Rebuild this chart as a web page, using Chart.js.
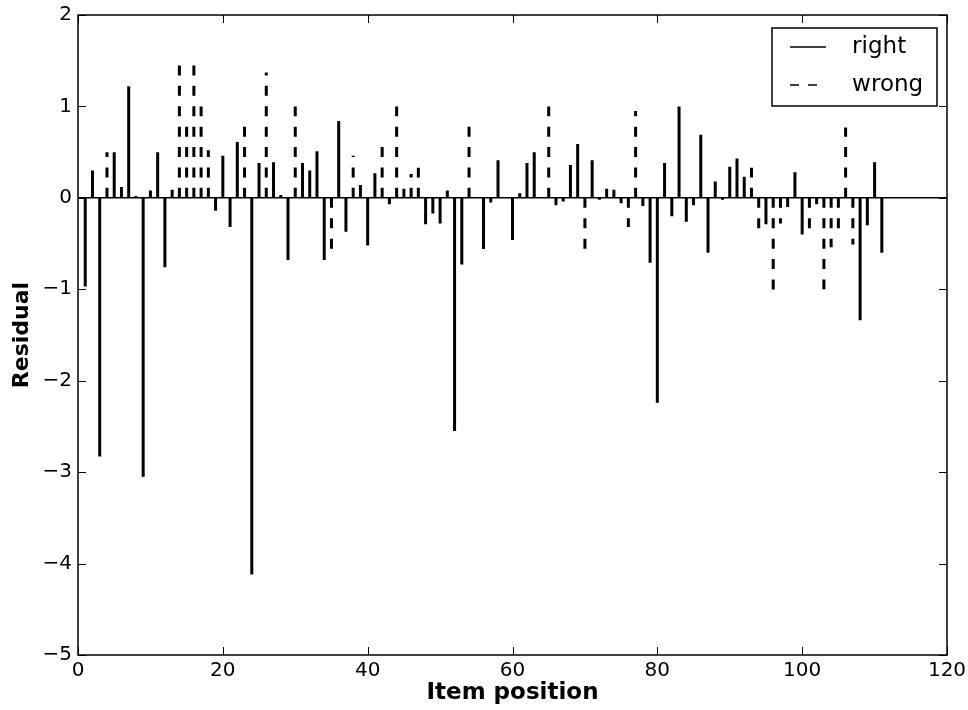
<!DOCTYPE html>
<html>
<head>
<meta charset="utf-8">
<script src="https://cdn.jsdelivr.net/npm/chart.js@4"></script>
<style>
    body { margin: 0; background: #fff; }
    #wrap { width: 968px; height: 710px; position: relative; }
</style>
</head>
<body>
<div id="wrap"><canvas id="residualChart"></canvas></div>
<script>
    // residual per item position 1..111
    var positions = [];
    for (var p = 1; p <= 111; p++) positions.push(p);

    var residuals = [
        -0.97, 0.30, -2.83, 0.50, 0.50, 0.12, 1.22, 0.02, -3.05, 0.08,
        0.50, -0.76, 0.09, 1.45, 0.78, 1.45, 1.00, 0.52, -0.14, 0.46,
        -0.32, 0.61, 0.78, -4.12, 0.38, 1.37, 0.39, 0.03, -0.68, 1.00,
        0.38, 0.30, 0.51, -0.68, -0.56, 0.84, -0.37, 0.46, 0.14, -0.52,
        0.27, 0.56, -0.07, 1.00, 0.10, 0.26, 0.33, -0.29, -0.17, -0.28,
        0.08, -2.55, -0.73, 0.78, 0.01, -0.56, -0.05, 0.41, 0.01, -0.46,
        0.05, 0.38, 0.50, 0.01, 1.00, -0.08, -0.04, 0.36, 0.59, -0.56,
        0.41, -0.02, 0.10, 0.09, -0.06, -0.32, 0.95, -0.09, -0.71, -2.24,
        0.38, -0.20, 1.00, -0.26, -0.08, 0.69, -0.60, 0.18, -0.02, 0.34,
        0.43, 0.23, 0.33, -0.34, -0.29, -1.01, -0.28, -0.10, 0.28, -0.40,
        -0.34, -0.07, -1.00, -0.54, -0.34, 0.77, -0.51, -1.34, -0.30, 0.39,
        -0.60
    ];

    // items answered wrong (dashed stems)
    var wrongItems = [4, 14, 15, 16, 17, 18, 23, 26, 30, 35, 38, 42, 44, 46, 47,
        54, 65, 70, 76, 77, 93, 94, 96, 97, 101, 103, 104, 105, 106, 107];

    var xTicks = [0, 20, 40, 60, 80, 100, 120];
    var yTicks = [-5, -4, -3, -2, -1, 0, 1, 2];

    // each stem: base point, tip point, then a gap
    function stems(wantWrong) {
        var pts = [];
        positions.forEach(function (pos, i) {
            if ((wrongItems.indexOf(pos) >= 0) !== wantWrong) return;
            pts.push({x: pos, y: 0}, {x: pos, y: residuals[i]}, {x: pos, y: null});
        });
        return pts;
    }

    Chart.defaults.font.family = 'DejaVu Sans';
    Chart.defaults.color = '#000';

    var minus = function (v) { return String(v).replace('-', '\u2212'); };

    // frame with inward tick marks on all four sides
    var framePlugin = {
        id: 'frame',
        afterDraw: function (chart) {
            var c = chart.ctx, a = chart.chartArea;
            var xs = chart.scales.x, ys = chart.scales.y, len = 8;
            c.save();
            c.strokeStyle = '#000';
            c.lineWidth = 1;
            c.beginPath();
            xTicks.forEach(function (t) {
                var px = Math.round(xs.getPixelForValue(t)) + 0.5;
                c.moveTo(px, a.bottom); c.lineTo(px, a.bottom - len);
                c.moveTo(px, a.top); c.lineTo(px, a.top + len);
            });
            yTicks.forEach(function (t) {
                var py = Math.round(ys.getPixelForValue(t)) + 0.5;
                c.moveTo(a.left, py); c.lineTo(a.left + len, py);
                c.moveTo(a.right, py); c.lineTo(a.right - len, py);
            });
            c.stroke();
            c.lineWidth = 1.5;
            c.strokeRect(a.left, a.top, a.right - a.left, a.bottom - a.top);
            // legend frame
            c.strokeRect(a.right - 175, a.top + 13, 165, 78);
            c.restore();
        },
        afterLayout: function (chart) {
            var lg = chart.legend, a = chart.chartArea;
            lg.width = 160; lg.height = 150;
            lg.left = a.right - 172; lg.right = lg.left + lg.width;
            lg.top = a.top + 5.5; lg.bottom = lg.top + lg.height;
        }
    };

    var ctx = document.getElementById('residualChart').getContext('2d');

    var residualChart = new Chart(ctx, {
        type: 'line',
        data: {
            datasets: [{
                label: 'right',
                data: stems(false),
                borderColor: '#000',
                borderWidth: 3,
                pointRadius: 0,
                spanGaps: false
            }, {
                label: 'wrong',
                data: stems(true),
                borderColor: '#000',
                borderWidth: 3,
                borderDash: [10, 10.4],
                pointRadius: 0,
                spanGaps: false
            }]
        },
        options: {
            responsive: true,
            maintainAspectRatio: false,
            animation: false,
            events: [],
            layout: { padding: { left: 0, top: 15, right: 21, bottom: 0 } },
            plugins: {
                tooltip: { enabled: false },
                legend: {
                    position: 'chartArea',
                    align: 'start',
                    labels: {
                        usePointStyle: true,
                        pointStyle: 'line',
                        pointStyleWidth: 36,
                        padding: 15,
                        font: { size: 23 },
                        color: '#000',
                        generateLabels: function (chart) {
                            var items = Chart.defaults.plugins.legend.labels.generateLabels(chart);
                            items.forEach(function (it) {
                                it.text = '  ' + it.text;
                                it.lineWidth = 1.5;
                                it.pointStyle = 'line';
                                it.lineDash = it.datasetIndex === 1 ? [9, 9] : [];
                            });
                            return items;
                        }
                    }
                }
            },
            scales: {
                x: {
                    type: 'linear',
                    min: 0,
                    max: 120,
                    afterBuildTicks: function (s) { s.ticks = xTicks.map(function (v) { return {value: v}; }); },
                    afterFit: function (s) { s.height = 55; s.paddingLeft = 0; s.paddingRight = 0; },
                    ticks: { font: { size: 20 }, padding: 4, maxRotation: 0 },
                    grid: { display: false, drawTicks: false },
                    border: { display: false },
                    title: {
                        display: true,
                        text: 'Item position',
                        font: { size: 23, weight: 'bold' },
                        padding: { top: 0, bottom: 3 }
                    }
                },
                y: {
                    min: -5,
                    max: 2,
                    afterBuildTicks: function (s) { s.ticks = yTicks.map(function (v) { return {value: v}; }); },
                    afterFit: function (s) { s.width = 78; s.paddingTop = 0; s.paddingBottom = 0; },
                    ticks: { font: { size: 20 }, padding: 6, callback: minus },
                    grid: {
                        drawTicks: false,
                        lineWidth: 1.5,
                        color: function (c) { return c.tick && c.tick.value === 0 ? '#000' : 'rgba(0,0,0,0)'; }
                    },
                    border: { display: false },
                    title: {
                        display: true,
                        text: 'Residual',
                        font: { size: 22, weight: 'bold' },
                        padding: { top: 9, bottom: 0 }
                    }
                }
            }
        },
        plugins: [framePlugin]
    });
</script>
</body>
</html>
